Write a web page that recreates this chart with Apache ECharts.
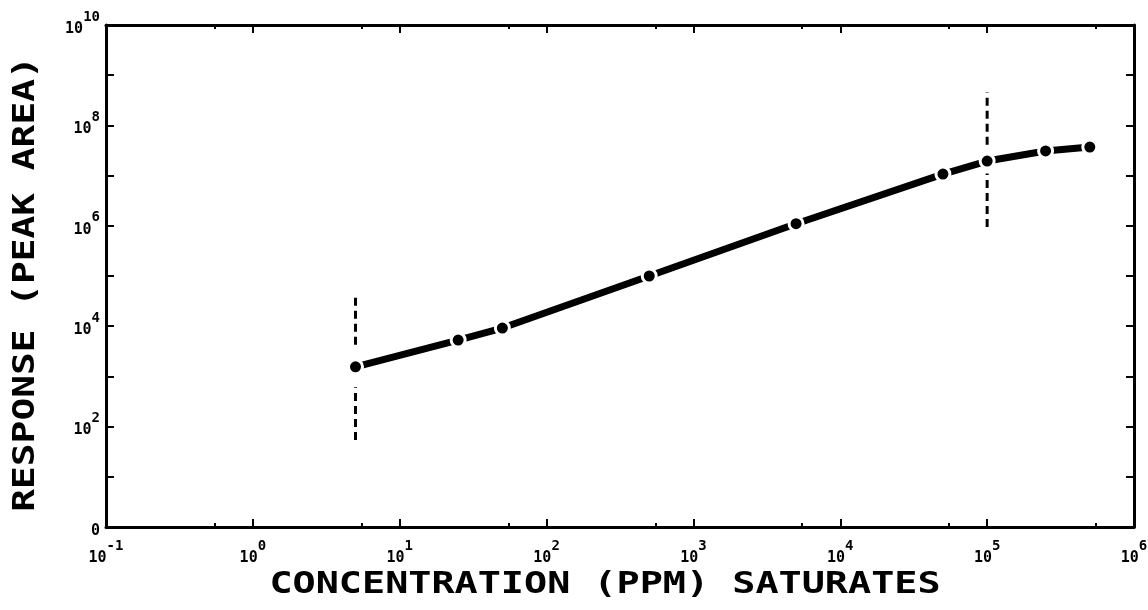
<!DOCTYPE html>
<html>
<head>
<meta charset="utf-8">
<script src="https://cdn.jsdelivr.net/npm/echarts@6/dist/echarts.min.js"></script>
<style>
  html, body { margin: 0; padding: 0; background: #fff; }
  #chart { width: 1148px; height: 610px; }
</style>
</head>
<body>
<div id="chart"></div>
<script>
// Calibration points: concentration (ppm) vs detector response (peak area)
const concentration = [5, 25, 50, 500, 5000, 50000, 100000, 250000, 500000];
const response = [1550, 5300, 9200, 100000, 1100000, 10700000, 19500000, 31000000, 37000000];

// Dashed limit markers (lower / upper end of the linear range), drawn as two pieces each
const limitLowX = 5;
const limitLowBelow = [54, 610];
const limitLowAbove = [4260, 46000];
const limitHighX = 100000;
const limitHighBelow = [950000, 11000000];
const limitHighAbove = [41000000, 460000000];

// Tick labels, one per decade
const xTickLabels = ['10^-1', '10^0', '10^1', '10^2', '10^3', '10^4', '10^5', '10^6'];
const yTickLabels = ['0', '', '10^2', '', '10^4', '', '10^6', '', '10^8', '', '10^10'];

const xTitle = 'CONCENTRATION (PPM) SATURATES';
const yTitle = 'RESPONSE (PEAK AREA)';

const FONT = '"DejaVu Sans Mono", "Liberation Mono", monospace';

function powerLabel(label) {
  if (!label) return '';
  const parts = label.split('^');
  return parts.length > 1 ? '{b|' + parts[0] + '}{e|' + parts[1] + '}' : '{b|' + parts[0] + '}';
}

const labelRich = {
  b: { fontFamily: FONT, fontWeight: 'bold', fontSize: 15, lineHeight: 38, color: '#000' },
  e: { fontFamily: FONT, fontWeight: 'bold', fontSize: 14, lineHeight: 12, verticalAlign: 'top', color: '#000' }
};

const axisLineStyle = { lineStyle: { color: '#000', width: 3 } };

function xAxisDef(position, showLabels) {
  return {
    type: 'log', logBase: 10, min: 0.1, max: 1e6, interval: 1,
    position: position,
    axisLine: axisLineStyle,
    axisTick: { show: true, inside: true, length: 8, lineStyle: { color: '#000', width: 2 } },
    minorTick: { show: true, splitNumber: 2, length: 4, lineStyle: { color: '#000', width: 2 } },
    splitLine: { show: false },
    minorSplitLine: { show: false },
    axisLabel: {
      show: showLabels, margin: 12, showMinLabel: true, showMaxLabel: true,
      formatter: function (v) { return powerLabel(xTickLabels[Math.round(Math.log10(v)) + 1]); },
      rich: labelRich
    }
  };
}

function yAxisDef(position, showLabels) {
  return {
    type: 'log', logBase: 10, min: 1, max: 1e10, interval: 1,
    position: position,
    axisLine: axisLineStyle,
    axisTick: { show: true, inside: true, length: 8, lineStyle: { color: '#000', width: 2 } },
    splitLine: { show: false },
    axisLabel: {
      show: showLabels, margin: 6, showMinLabel: true, showMaxLabel: true,
      padding: [8, 0, 0, 0],
      formatter: function (v) { return powerLabel(yTickLabels[Math.round(Math.log10(v))]); },
      rich: labelRich
    }
  };
}

function dashedPiece(x, ys) {
  return {
    type: 'line',
    data: ys.map(function (y) { return [x, y]; }),
    symbol: 'none',
    silent: true,
    z: 1,
    lineStyle: { color: '#000', width: 3, type: [8, 5] }
  };
}

const chart = echarts.init(document.getElementById('chart'), null, { renderer: 'canvas' });

chart.setOption({
  animation: false,
  backgroundColor: '#fff',
  grid: { left: 106, right: 14, top: 25, bottom: 83, containLabel: false, outerBoundsMode: 'none' },
  xAxis: [xAxisDef('bottom', true), xAxisDef('top', false)],
  yAxis: [yAxisDef('left', true), yAxisDef('right', false)],
  graphic: [
    {
      type: 'text', x: 605, y: 585, scaleX: 1.24,
      style: { text: xTitle, fontFamily: FONT, fontWeight: 'bold', fontSize: 31, align: 'center', verticalAlign: 'middle', fill: '#000' }
    },
    {
      type: 'text', x: 26, y: 284, rotation: Math.PI / 2, scaleX: 1.22,
      style: { text: yTitle, fontFamily: FONT, fontWeight: 'bold', fontSize: 31, align: 'center', verticalAlign: 'middle', fill: '#000' }
    }
  ],
  series: [
    dashedPiece(limitLowX, limitLowBelow),
    dashedPiece(limitLowX, limitLowAbove),
    dashedPiece(limitHighX, limitHighBelow),
    dashedPiece(limitHighX, limitHighAbove),
    {
      type: 'line',
      z: 3,
      data: concentration.map(function (c, i) { return [c, response[i]]; }),
      smooth: false,
      symbol: 'circle',
      symbolSize: 14,
      itemStyle: { color: '#000', borderColor: '#fff', borderWidth: 3 },
      lineStyle: { color: '#000', width: 7, cap: 'round', join: 'round' }
    }
  ]
});
</script>
</body>
</html>
